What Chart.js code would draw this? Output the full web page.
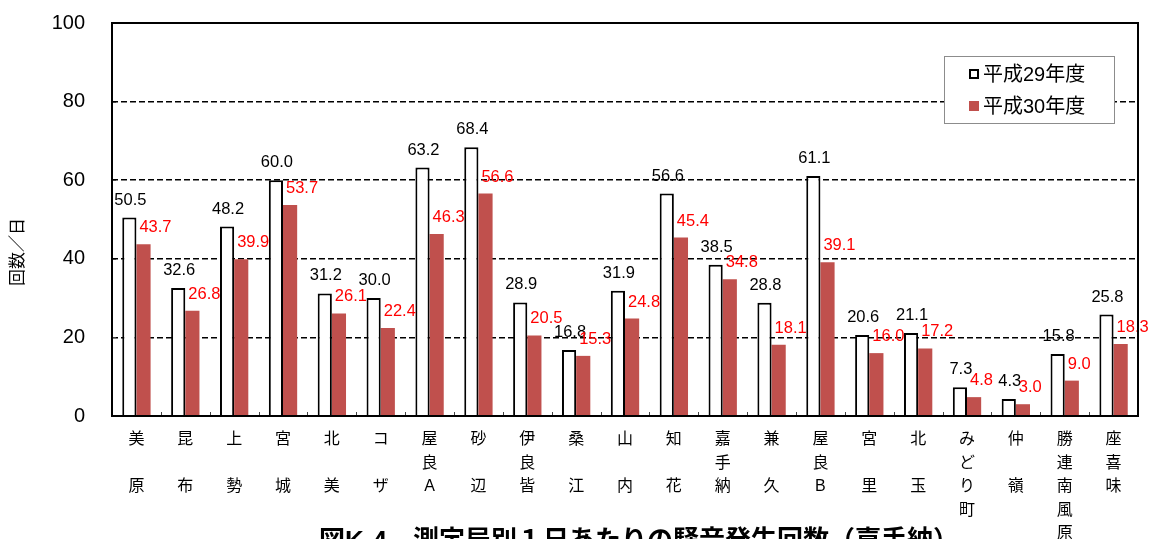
<!DOCTYPE html>
<html><head><meta charset="utf-8">
<script src="https://cdn.jsdelivr.net/npm/chart.js@4.4.0/dist/chart.umd.min.js"></script>
<style>html,body{margin:0;padding:0;background:#fff;overflow:hidden}</style>
</head><body><canvas id="c" width="1150" height="539"></canvas>
<script>
const categories = [['美','','原'],['昆','','布'],['上','','勢'],['宮','','城'],['北','','美'],['コ','','ザ'],['屋','良','A'],['砂','','辺'],['伊','良','皆'],['桑','','江'],['山','','内'],['知','','花'],['嘉','手','納'],['兼','','久'],['屋','良','B'],['宮','','里'],['北','','玉'],['み','ど','り','町'],['仲','','嶺'],['勝','連','南','風','原'],['座','喜','味']];
const seriesNames = ['平成29年度','平成30年度'];
const values29 = [50.5,32.6,48.2,60.0,31.2,30.0,63.2,68.4,28.9,16.8,31.9,56.6,38.5,28.8,61.1,20.6,21.1,7.3,4.3,15.8,25.8];
const values30 = [43.7,26.8,39.9,53.7,26.1,22.4,46.3,56.6,20.5,15.3,24.8,45.4,34.8,18.1,39.1,16.0,17.2,4.8,3.0,9.0,18.3];
const yMin = 0, yMax = 100, yStep = 20;
const yTitle = '回数／日';
const chartTitle = '図K-4　測定局別１日あたりの騒音発生回数（嘉手納）';

const FONT = '"Liberation Sans","Noto Sans CJK JP",sans-serif';
const RED = '#C0504D';

const decor = {
  id: 'decor',
  afterDatasetsDraw(chart) {
    const ctx = chart.ctx;
    ctx.save();
    ctx.font = '16.5px ' + FONT;
    ctx.textBaseline = 'alphabetic';
    chart.getDatasetMeta(0).data.forEach((bar, i) => {
      ctx.fillStyle = '#000'; ctx.textAlign = 'center';
      ctx.fillText(values29[i].toFixed(1), bar.x + 1, bar.y - 13);
    });
    chart.getDatasetMeta(1).data.forEach((bar, i) => {
      ctx.fillStyle = '#FF0000'; ctx.textAlign = 'left';
      ctx.fillText(values30[i].toFixed(1), bar.x - bar.width / 2 + 3, bar.y - 12);
    });
    ctx.restore();
  },
  afterDraw(chart) {
    const ctx = chart.ctx, a = chart.chartArea;
    const xs = chart.scales.x, ys = chart.scales.y;
    ctx.save();
    ctx.strokeStyle = '#444'; ctx.lineWidth = 1;
    ctx.beginPath();
    for (let i = 1; i < categories.length; i++) {
      const px = Math.round((xs.getPixelForValue(i - 1) + xs.getPixelForValue(i)) / 2) + 0.5;
      ctx.moveTo(px, a.bottom); ctx.lineTo(px, a.bottom - 4);
    }
    for (let v = yMin + yStep; v < yMax; v += yStep) {
      const py = Math.round(ys.getPixelForValue(v)) + 0.5;
      ctx.moveTo(a.left, py); ctx.lineTo(a.left + 4, py);
    }
    ctx.stroke();
    ctx.strokeStyle = '#000'; ctx.lineWidth = 2;
    ctx.strokeRect(a.left, a.top, a.right - a.left, a.bottom - a.top);
    // legend
    ctx.lineWidth = 1; ctx.strokeStyle = '#8c8c8c'; ctx.fillStyle = '#fff';
    ctx.fillRect(944, 56, 170, 67);
    ctx.strokeRect(944.5, 56.5, 170, 67);
    ctx.fillStyle = '#fff'; ctx.strokeStyle = '#000'; ctx.lineWidth = 2;
    ctx.fillRect(970, 70, 8, 8); ctx.strokeRect(970, 70, 8, 8);
    ctx.fillStyle = RED; ctx.fillRect(969, 101, 10, 10);
    ctx.fillStyle = '#000'; ctx.font = '20px ' + FONT;
    ctx.textAlign = 'left'; ctx.textBaseline = 'middle';
    ctx.fillText(seriesNames[0], 983, 75);
    ctx.fillText(seriesNames[1], 983, 107);
    // y title
    ctx.save();
    ctx.translate(18, 252); ctx.rotate(-Math.PI / 2);
    ctx.font = '17px ' + FONT; ctx.textAlign = 'center'; ctx.textBaseline = 'middle';
    ctx.fillText(yTitle, 0, 0);
    ctx.restore();
    // bottom title (cut off by the frame)
    ctx.font = 'bold 26px ' + FONT; ctx.textAlign = 'center'; ctx.textBaseline = 'middle';
    ctx.fillText(chartTitle, 639, 542);
    ctx.restore();
  }
};

new Chart(document.getElementById('c'), {
  type: 'bar',
  data: {
    labels: categories,
    datasets: [
      { label: seriesNames[0], data: values29, backgroundColor: '#fff', borderColor: '#000', borderWidth: 2, borderSkipped: 'bottom' },
      { label: seriesNames[1], data: values30, backgroundColor: RED, borderWidth: 0 }
    ]
  },
  options: {
    responsive: false, animation: false, devicePixelRatio: 1,
    layout: { padding: { top: 23, right: 12, left: 0, bottom: 0 } },
    plugins: { legend: { display: false }, tooltip: { enabled: false } },
    datasets: { bar: { categoryPercentage: 0.58, barPercentage: 1 } },
    scales: {
      x: {
        grid: { display: false, drawTicks: false },
        border: { display: false },
        ticks: { autoSkip: false, maxRotation: 0, minRotation: 0, padding: 12, color: '#000',
                 font: { family: FONT, size: 16, lineHeight: 1.47 } },
        afterFit(s) { s.height = 123; s.paddingLeft = 0; s.paddingRight = 0; }
      },
      y: {
        min: yMin, max: yMax,
        grid: { color: '#000', lineWidth: 1.5, drawTicks: false },
        border: { display: false, dash: [6, 3] },
        ticks: { stepSize: yStep, padding: 27, color: '#000', font: { family: FONT, size: 20 } },
        afterFit(s) { s.width = 112; s.paddingTop = 0; s.paddingBottom = 0; }
      }
    }
  },
  plugins: [decor]
});
</script></body></html>
